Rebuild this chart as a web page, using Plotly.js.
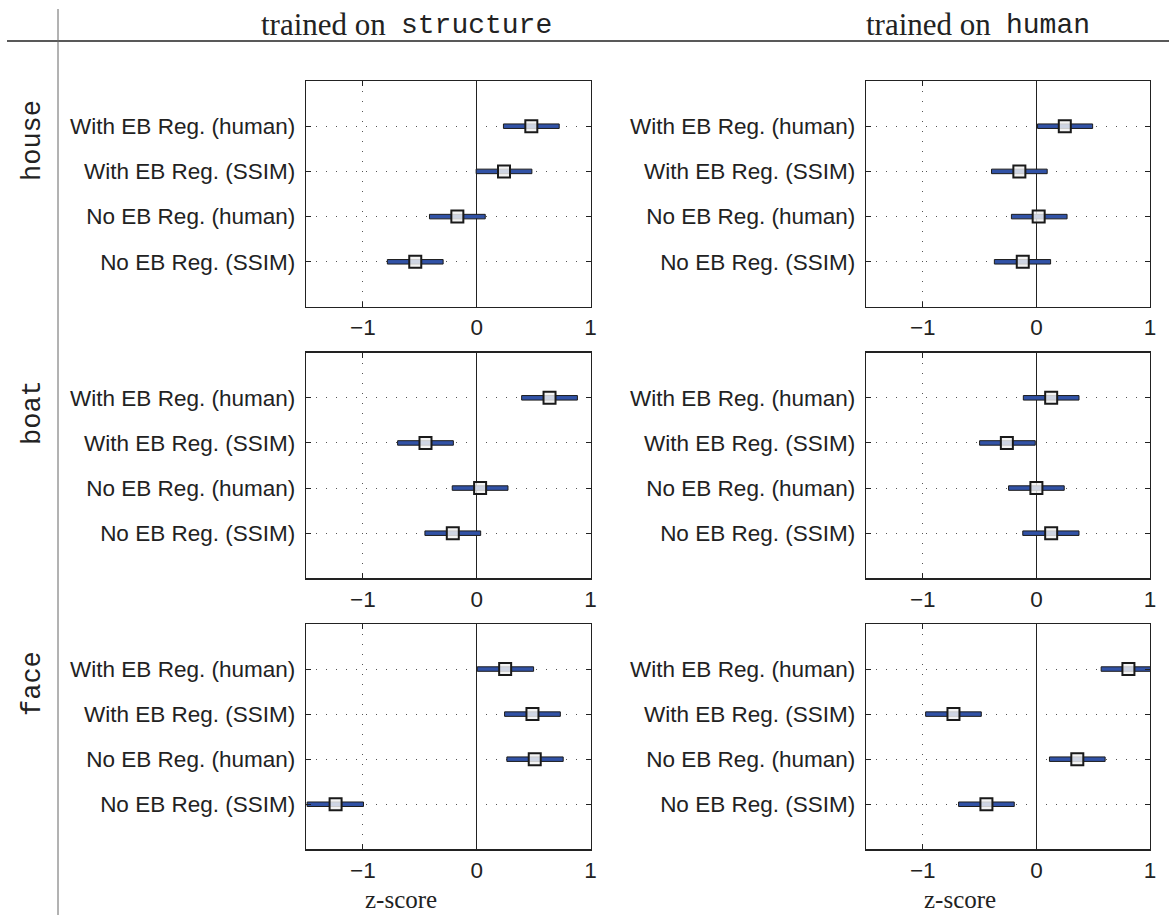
<!DOCTYPE html>
<html><head><meta charset="utf-8">
<script src="https://cdn.plot.ly/plotly-3.0.1.min.js"></script>
<style>html,body{margin:0;padding:0;background:#fff}#chart{width:1169px;height:915px}</style>
</head><body><div id="chart"></div>
<script>
// ---------- data ----------
const categories = ['With EB Reg. (human)', 'With EB Reg. (SSIM)', 'No EB Reg. (human)', 'No EB Reg. (SSIM)'];
const images = ['house', 'boat', 'face'];
const trainings = ['structure', 'human'];
const xTickVals = [-1, 0, 1];
const xTickText = ['\u22121', '0', '1'];
const xLabel = 'z-score';

const houseStructureMean = [0.48, 0.24, -0.17, -0.54];
const houseStructureLo   = [0.235, -0.005, -0.415, -0.785];
const houseStructureHi   = [0.725, 0.485, 0.075, -0.295];

const houseHumanMean = [0.25, -0.15, 0.02, -0.12];
const houseHumanLo   = [0.01, -0.395, -0.22, -0.37];
const houseHumanHi   = [0.495, 0.095, 0.27, 0.125];

const boatStructureMean = [0.64, -0.45, 0.03, -0.21];
const boatStructureLo   = [0.395, -0.695, -0.215, -0.455];
const boatStructureHi   = [0.885, -0.205, 0.275, 0.035];

const boatHumanMean = [0.13, -0.26, 0.0, 0.13];
const boatHumanLo   = [-0.115, -0.5, -0.245, -0.12];
const boatHumanHi   = [0.375, -0.01, 0.245, 0.375];

const faceStructureMean = [0.25, 0.49, 0.51, -1.24];
const faceStructureLo   = [0.005, 0.245, 0.265, -1.49];
const faceStructureHi   = [0.5, 0.735, 0.76, -0.995];

const faceHumanMean = [0.81, -0.73, 0.36, -0.44];
const faceHumanLo   = [0.57, -0.975, 0.115, -0.685];
const faceHumanHi   = [1.06, -0.485, 0.605, -0.195];

const panelData = {
  house: {structure: [houseStructureMean, houseStructureLo, houseStructureHi],
          human:     [houseHumanMean, houseHumanLo, houseHumanHi]},
  boat:  {structure: [boatStructureMean, boatStructureLo, boatStructureHi],
          human:     [boatHumanMean, boatHumanLo, boatHumanHi]},
  face:  {structure: [faceStructureMean, faceStructureLo, faceStructureHi],
          human:     [faceHumanMean, faceHumanLo, faceHumanHi]}
};

// ---------- layout ----------
const W = 1169, H = 915;
const px = v => v / W;
const py = v => 1 - v / H;
const colX = [[306, 590.5], [866, 1150]];
const rowY = [[81, 307], [352.7, 578.3], [624, 849.3]];

const sansFont = 'Liberation Sans, Arial, Helvetica, sans-serif';
const serifFont = 'Liberation Serif, Times New Roman, serif';
const monoFont = 'Liberation Mono, Courier New, monospace';
const ink = '#222';

const traces = [];
const layout = {
  width: W, height: H,
  margin: {l: 0, r: 0, t: 0, b: 0},
  paper_bgcolor: '#fff', plot_bgcolor: '#fff',
  showlegend: false,
  hovermode: false,
  shapes: [], annotations: []
};

const rowPos = categories.map((c, i) => categories.length - i);

let k = 0;
images.forEach((img, r) => {
  trainings.forEach((tr, c) => {
    k++;
    const xa = 'x' + (k === 1 ? '' : k), ya = 'y' + (k === 1 ? '' : k);
    const [mean, lo, hi] = panelData[img][tr];
    traces.push({
      type: 'bar', orientation: 'h', xaxis: xa, yaxis: ya,
      y: rowPos, base: lo, x: hi.map((h, i) => h - lo[i]),
      width: 0.1,
      marker: {color: '#3152a6', line: {color: '#1c1c1c', width: 1}}
    });
    traces.push({
      type: 'scatter', mode: 'markers', xaxis: xa, yaxis: ya,
      x: mean, y: rowPos,
      marker: {symbol: 'square', size: 12, color: 'rgba(242,242,242,0.82)',
               line: {color: '#1a1a1a', width: 2}}
    });
    const xn = 'xaxis' + (k === 1 ? '' : k), yn = 'yaxis' + (k === 1 ? '' : k);
    layout[xn] = {
      domain: [px(colX[c][0]), px(colX[c][1])], anchor: ya,
      range: [-1.5, 1], tickmode: 'array', tickvals: xTickVals, ticktext: xTickText,
      ticks: 'inside', ticklen: 5, tickcolor: ink, tickwidth: 1,
      showline: true, linecolor: ink, linewidth: 1.3, mirror: 'ticks',
      showgrid: true, gridcolor: '#555', gridwidth: 1, griddash: '1px,9px',
      zeroline: true, zerolinecolor: ink, zerolinewidth: 1,
      tickfont: {family: sansFont, size: 22.5, color: ink},
      ticklabelstandoff: 0, fixedrange: true
    };
    layout[yn] = {
      domain: [py(rowY[r][1]), py(rowY[r][0])], anchor: xa,
      range: [0, 5], tickmode: 'array', tickvals: rowPos, ticktext: categories,
      ticks: 'inside', ticklen: 5, tickcolor: ink, tickwidth: 1,
      showline: true, linecolor: ink, linewidth: 1.3, mirror: 'ticks',
      showgrid: true, gridcolor: '#555', gridwidth: 1, griddash: '1px,9px',
      zeroline: false,
      tickfont: {family: sansFont, size: 22.5, color: ink},
      ticklabelstandoff: 5, fixedrange: true
    };
  });
});

// frame lines of the table
layout.shapes.push({type: 'line', xref: 'paper', yref: 'paper',
  x0: px(7), x1: 1, y0: py(41), y1: py(41), line: {color: ink, width: 1.5}});
layout.shapes.push({type: 'line', xref: 'paper', yref: 'paper',
  x0: px(58), x1: px(58), y0: 0, y1: py(9), line: {color: '#666', width: 1}});

// column headers
const headerSplit = [395, 1000];
trainings.forEach((tr, c) => {
  layout.annotations.push({xref: 'paper', yref: 'paper', x: px(headerSplit[c] - 7), y: py(24),
    xanchor: 'right', yanchor: 'middle', showarrow: false, text: 'trained on',
    font: {family: serifFont, size: 31, color: ink}});
  layout.annotations.push({xref: 'paper', yref: 'paper', x: px(headerSplit[c] + 4), y: py(25),
    xanchor: 'left', yanchor: 'middle', showarrow: false, text: tr,
    font: {family: monoFont, size: 28, color: ink}});
});

// row labels
const rowLabelY = [141, 413, 684];
images.forEach((img, r) => {
  layout.annotations.push({xref: 'paper', yref: 'paper', x: px(33), y: py(rowLabelY[r]),
    xanchor: 'center', yanchor: 'middle', showarrow: false, textangle: -90, text: img,
    font: {family: monoFont, size: 27, color: ink}});
});

// x labels
const xLabelX = [401, 960];
xLabelX.forEach(xx => {
  layout.annotations.push({xref: 'paper', yref: 'paper', x: px(xx), y: py(899),
    xanchor: 'center', yanchor: 'middle', showarrow: false, text: xLabel,
    font: {family: serifFont, size: 25, color: ink}});
});

Plotly.newPlot('chart', traces, layout, {staticPlot: true, displayModeBar: false});
</script>
</body></html>
